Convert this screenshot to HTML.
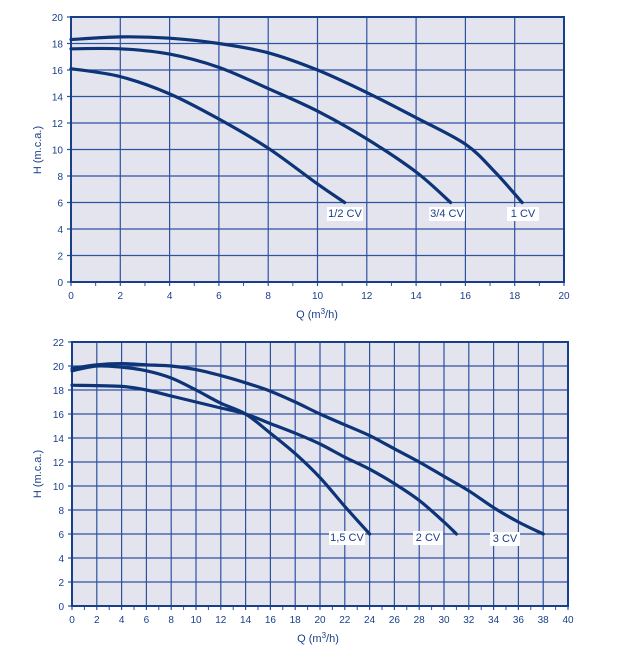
<!DOCTYPE html>
<html><head><meta charset="utf-8"><style>
body{margin:0;background:#fff;}
svg{display:block;font-family:"Liberation Sans",sans-serif;}
</style></head><body>
<svg id="s" width="620" height="654" viewBox="0 0 620 654" xmlns="http://www.w3.org/2000/svg">
<g id="g"></g>
<text x="317" y="318" font-size="11" fill="#1a3f8a" text-anchor="middle">Q (m<tspan font-size="8" dy="-4">3</tspan><tspan dy="4">/h)</tspan></text>
<text transform="translate(41,150) rotate(-90)" font-size="11" fill="#1a3f8a" text-anchor="middle">H (m.c.a.)</text>
<text x="318" y="642" font-size="11" fill="#1a3f8a" text-anchor="middle">Q (m<tspan font-size="8" dy="-4">3</tspan><tspan dy="4">/h)</tspan></text>
<text transform="translate(41,474) rotate(-90)" font-size="11" fill="#1a3f8a" text-anchor="middle">H (m.c.a.)</text>
</svg>
<script>
var NS="http://www.w3.org/2000/svg",g=document.getElementById('g');
function el(t,a,txt){var e=document.createElementNS(NS,t);for(var k in a)e.setAttribute(k,a[k]);if(txt)e.textContent=txt;g.appendChild(e);return e;}
function chart(x0,x1,y0,y1,xmax,ymax,curves,labels){
 var X=function(v){return x0+(x1-x0)*v/xmax},Y=function(v){return y0-(y0-y1)*v/ymax};
 el('rect',{x:x0,y:y1,width:x1-x0,height:y0-y1,fill:'#e4e4ef'});
 for(var v=0;v<=xmax;v+=2){el('line',{x1:X(v),x2:X(v),y1:y1,y2:y0+4,stroke:'#2d52a0','stroke-width':1.2});
  el('text',{x:X(v),y:y0+17,'font-size':10,fill:'#1a3f8a','text-anchor':'middle'},''+v);}
 for(var v=1;v<xmax;v+=2)el('line',{x1:X(v),x2:X(v),y1:y0,y2:y0+4,stroke:'#2d52a0','stroke-width':1});
 for(var v=0;v<=ymax;v+=2){el('line',{x1:x0-4,x2:x1,y1:Y(v),y2:Y(v),stroke:'#2d52a0','stroke-width':1.2});
  el('text',{x:x0-8,y:Y(v)+4,'font-size':10,fill:'#1a3f8a','text-anchor':'end'},''+v);}
 el('rect',{x:x0,y:y1,width:x1-x0,height:y0-y1,fill:'none',stroke:'#1a3f8a','stroke-width':2});
 curves.forEach(function(c){var d='';
  for(var i=0;i<c.length;i++){var p=[X(c[i][0]),Y(c[i][1])];
   if(i==0)d='M'+p; else {var pm=c[i-1],pa=c[Math.max(i-2,0)],pn=c[Math.min(i+1,c.length-1)];
    var c1=[X(pm[0]+(c[i][0]-pa[0])/6),Y(pm[1]+(c[i][1]-pa[1])/6)],c2=[X(c[i][0]-(pn[0]-pm[0])/6),Y(c[i][1]-(pn[1]-pm[1])/6)];
    d+=' C'+c1+' '+c2+' '+p;}}
  el('path',{d:d,fill:'none',stroke:'#0c3477','stroke-width':3.2,'stroke-linecap':'round'});});
 labels.forEach(function(l){el('rect',{x:l[0]-l[3]/2,y:l[1]-10,width:l[3],height:14,fill:'#fff'});
  el('text',{x:l[0],y:l[1],'font-size':11,fill:'#1a3f8a','text-anchor':'middle'},l[2]);});
}
chart(71,564,282,17,20,20,[
 [[0,16.1],[2,15.5],[4,14.2],[6,12.3],[8,10.1],[10,7.4],[11.1,6]],
 [[0,17.6],[2,17.6],[4,17.2],[6,16.2],[8,14.6],[10,12.9],[12,10.8],[14,8.3],[15.4,6]],
 [[0,18.3],[2,18.5],[4,18.4],[6,18.0],[8,17.3],[10,16.0],[12,14.3],[14,12.4],[16,10.4],[17.2,8.3],[18.3,6]]
],[[345,217,'1/2 CV',36],[447,217,'3/4 CV',36],[523,217,'1 CV',32]]);
chart(72,568,606,342,40,22,[
 [[0,19.6],[2,20],[4,19.9],[6,19.6],[8,19.0],[10,18],[12,16.9],[14,16],[16,14.4],[18,12.7],[20,10.7],[22,8.3],[24,6]],
 [[0,18.4],[4,18.3],[6,18],[8,17.5],[10,17],[12,16.5],[14,16],[16,15.2],[18,14.4],[20,13.5],[22,12.4],[24,11.4],[26,10.2],[28,8.8],[30,7],[31,6]],
 [[0,19.8],[2,20.1],[4,20.2],[6,20.1],[8,20],[10,19.7],[12,19.2],[14,18.6],[16,17.9],[18,17.0],[20,16],[22,15.1],[24,14.2],[26,13.1],[28,12],[30,10.8],[32,9.6],[34,8.2],[36,7],[38,6]]
],[[347,541,'1,5 CV',36],[428,541,'2 CV',30],[505,542,'3 CV',30]]);
</script>
</body></html>
